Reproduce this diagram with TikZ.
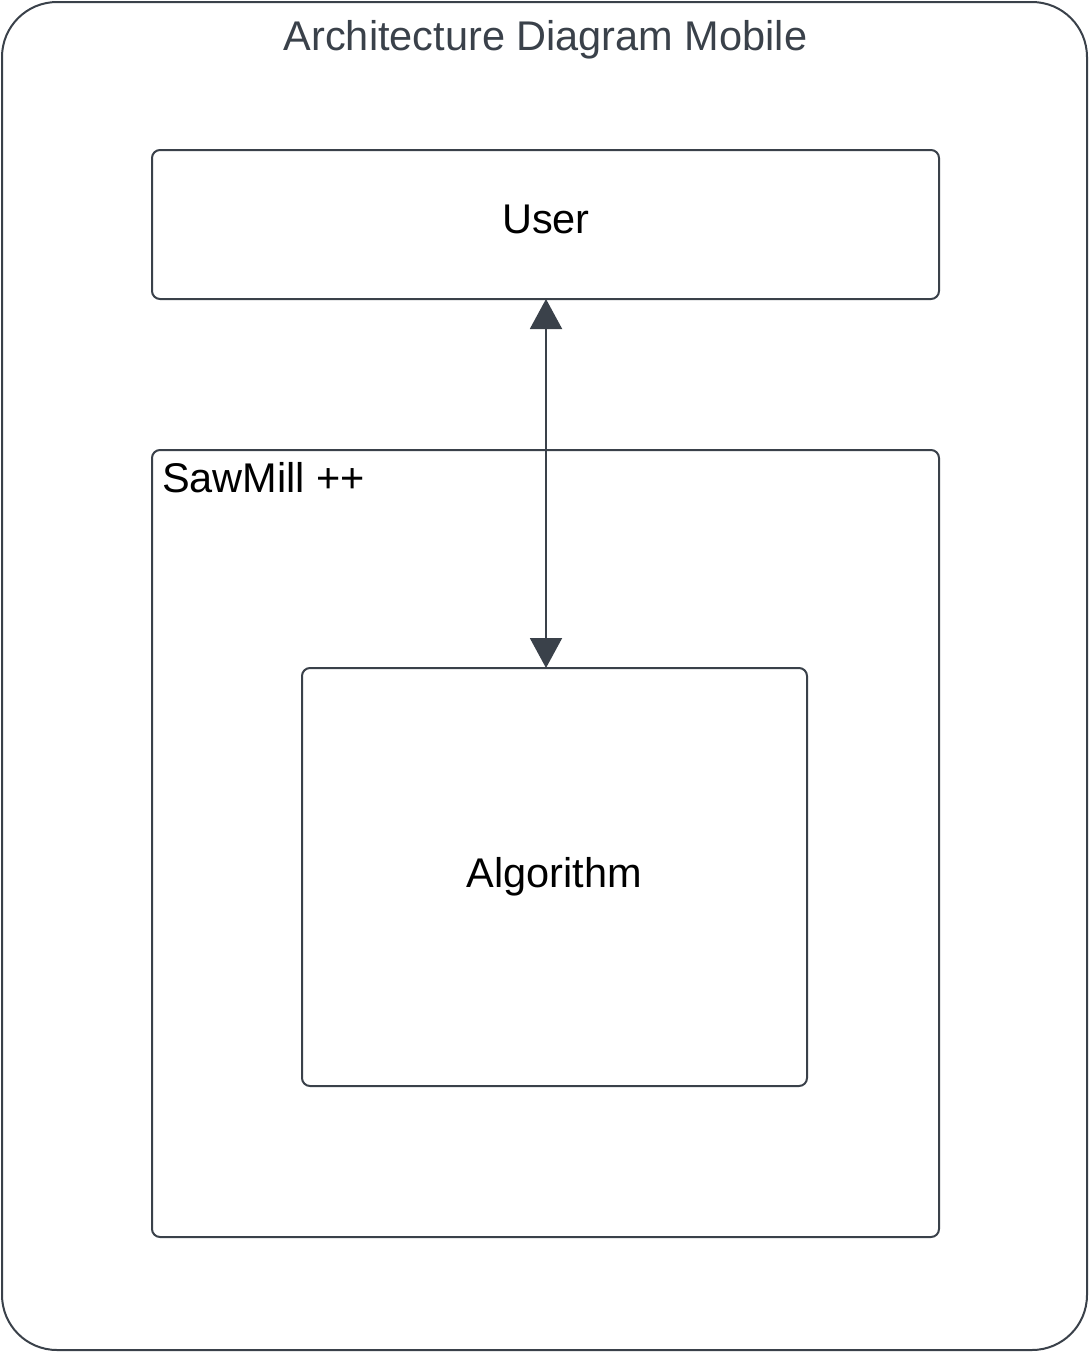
\documentclass[tikz,border=0pt]{standalone}
\usepackage{fontspec}
\setmainfont{Liberation Sans}
\usetikzlibrary{arrows.meta}
\definecolor{edge}{HTML}{3A414A}
\begin{document}
\begin{tikzpicture}[x=1pt,y=-1pt,
  frame/.style={draw=edge,line width=2pt,rounded corners=8pt},
  lbl/.style={font=\fontsize{41.5}{48}\selectfont,text=black,inner sep=0pt}]
\useasboundingbox (0,0) rectangle (1089,1352);
\draw[draw=edge,line width=2pt,rounded corners=55pt] (2,2) rectangle (1087,1350);
\node[font=\fontsize{41.5}{48}\selectfont,text=edge,inner sep=0pt,anchor=base] (title) at (545.5,50) {Architecture Diagram Mobile};
\draw[frame] (152,150) rectangle (939,299);
\node[lbl,anchor=base] (user) at (546,233) {User};
\coordinate (userb) at (546,299);
\draw[frame] (152,450) rectangle (939,1237);
\node[lbl,anchor=base west] (saw) at (162,492) {SawMill ++};
\draw[frame] (302,668) rectangle (807,1086);
\coordinate (algt) at (546,668);
\node[lbl,anchor=base] (alg) at (554.5,887) {Algorithm};
\draw[edge,line width=2pt,{Triangle[width=32pt,length=30pt]}-{Triangle[width=32pt,length=30pt]}] (userb) -- (algt);
\end{tikzpicture}
\end{document}
